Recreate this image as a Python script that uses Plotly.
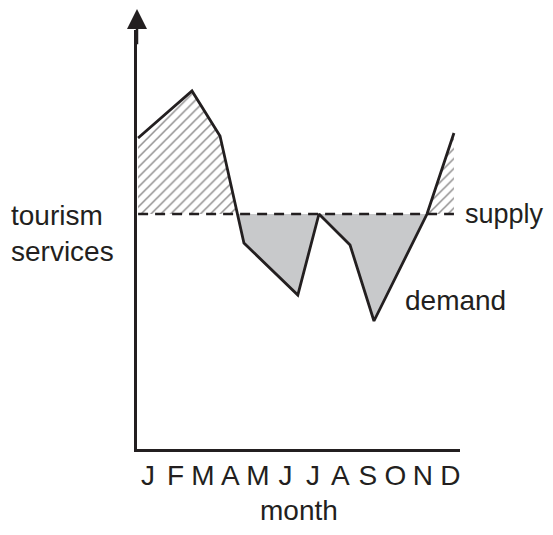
import plotly.graph_objects as go

# ---- data ----
months = ["J", "F", "M", "A", "M", "J", "J", "A", "S", "O", "N", "D"]
month_pos = list(range(12))
demand_x = [-0.36, 1.6, 2.62, 3.49, 5.45, 6.22, 7.35, 8.22, 10.15, 11.13]
demand_y = [31.1, 35.8, 31.3, 20.6, 15.4, 23.5, 20.4, 12.8, 23.5, 31.6]
supply_level = 23.5

FONT = "Liberation Sans, Arial, Helvetica, sans-serif"
TXT = "#231f20"
FS = 28

# ---- build above/below regions between demand and supply ----
def regions(xs, ys, s):
    above, below = [], []
    pts = []
    for i in range(len(xs)):
        pts.append((xs[i], ys[i]))
        if i < len(xs) - 1:
            d0, d1 = ys[i] - s, ys[i + 1] - s
            if d0 * d1 < 0:
                t = d0 / (d0 - d1)
                pts.append((xs[i] + t * (xs[i + 1] - xs[i]), s))
    segs = []
    seg = [pts[0]]
    for p in pts[1:]:
        seg.append(p)
        if abs(p[1] - s) < 1e-9:
            segs.append(seg)
            seg = [p]
    segs.append(seg)
    for sg in segs:
        if len(sg) < 2:
            continue
        mid = sum(p[1] for p in sg) / len(sg)
        px = [p[0] for p in sg] + [sg[-1][0], sg[0][0], sg[0][0]]
        py = [p[1] for p in sg] + [s, s, sg[0][1]]
        if mid > s:
            above.append((px, py))
        else:
            below.append((px, py))
    return above, below

above, below = regions(demand_x, demand_y, supply_level)

def join(polys):
    X, Y = [], []
    for px, py in polys:
        X += px + [None]
        Y += py + [None]
    return X, Y

fig = go.Figure()

ax_, ay_ = join(above)
fig.add_trace(go.Scatter(
    x=ax_, y=ay_, mode="none", fill="toself",
    fillcolor="white",
    fillpattern=dict(shape="/", fgcolor="#231f20", bgcolor="white",
                     size=7, solidity=0.22),
    hoverinfo="skip", showlegend=False))

bx_, by_ = join(below)
fig.add_trace(go.Scatter(
    x=bx_, y=by_, mode="none", fill="toself", fillcolor="#c8c9cb",
    hoverinfo="skip", showlegend=False))

fig.add_trace(go.Scatter(
    x=[demand_x[0], demand_x[-1]], y=[supply_level, supply_level],
    mode="lines", line=dict(color="#231f20", width=2.5, dash="10px,7px"),
    hoverinfo="skip", showlegend=False))

fig.add_trace(go.Scatter(
    x=demand_x, y=demand_y, mode="lines",
    line=dict(color="#231f20", width=2.8),
    hoverinfo="skip", showlegend=False))

fig.update_xaxes(
    range=[-0.4, 11.35], showgrid=False, zeroline=False,
    showline=True, linecolor="#231f20", linewidth=2.5,
    tickmode="array", tickvals=month_pos, ticktext=months,
    ticks="",
    tickfont=dict(family=FONT, size=FS, color=TXT),
    fixedrange=True)
fig.update_yaxes(
    range=[0, 41.9], showgrid=False, zeroline=False,
    showline=True, linecolor="#231f20", linewidth=2.5,
    showticklabels=False, ticks="", fixedrange=True)

annos = [
    dict(x=-0.4, xref="x", y=1.058, yref="paper", ax=0, ay=40,
         showarrow=True, arrowhead=2, arrowsize=1.6, arrowwidth=2.5,
         arrowcolor="#231f20", text=""),
    dict(x=0.5, xref="paper", y=-0.1456, yref="paper", text="month",
         showarrow=False, font=dict(family=FONT, size=FS, color=TXT),
         xanchor="center", yanchor="middle"),
    dict(x=-0.396, xref="paper", y=0.515, yref="paper",
         text="tourism<br>services", align="left",
         showarrow=False, font=dict(family=FONT, size=FS, color=TXT),
         xanchor="left", yanchor="middle"),
    dict(x=1.01, xref="paper", y=0.561, yref="paper", text="supply",
         showarrow=False, font=dict(family=FONT, size=27, color=TXT),
         xanchor="left", yanchor="middle"),
    dict(x=0.822, xref="paper", y=0.355, yref="paper", text="demand",
         showarrow=False, font=dict(family=FONT, size=FS, color=TXT),
         xanchor="left", yanchor="middle"),
]

fig.update_layout(
    width=545, height=527,
    margin=dict(l=129, r=93, t=22, b=86),
    paper_bgcolor="white", plot_bgcolor="white",
    annotations=annos, showlegend=False)

fig.write_html("out.html", config={"displayModeBar": False})
